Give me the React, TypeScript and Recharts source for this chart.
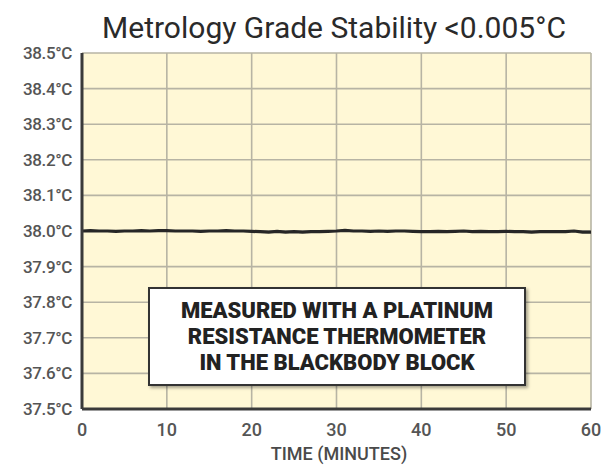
import React from "react";
import { CartesianGrid, Line, LineChart, XAxis, YAxis } from "recharts";

// minutes 0..60, one reading per minute
const minutes = [
  0, 1, 2, 3, 4, 5, 6, 7, 8, 9, 10, 11, 12, 13, 14, 15, 16, 17, 18, 19, 20,
  21, 22, 23, 24, 25, 26, 27, 28, 29, 30, 31, 32, 33, 34, 35, 36, 37, 38, 39, 40,
  41, 42, 43, 44, 45, 46, 47, 48, 49, 50, 51, 52, 53, 54, 55, 56, 57, 58, 59, 60,
];
const temps = [
  38.0, 38.001, 38.0, 38.0, 37.999, 38.0, 38.0, 38.001, 38.0, 38.001, 38.001,
  38.0, 38.0, 38.0, 37.999, 38.0, 38.0, 38.001, 38.0, 38.0, 37.999,
  37.998, 37.997, 37.999, 37.997, 37.998, 37.997, 37.998, 37.998, 37.999, 38.0,
  38.002, 38.0, 38.0, 37.999, 38.0, 37.999, 38.0, 38.0, 37.999, 37.998,
  37.998, 37.999, 37.998, 37.999, 38.0, 37.998, 37.999, 37.998, 37.998, 37.999,
  37.998, 37.998, 37.997, 37.998, 37.998, 37.998, 37.998, 38.0, 37.997, 37.997,
];
const yTicks = [37.5, 37.6, 37.7, 37.8, 37.9, 38.0, 38.1, 38.2, 38.3, 38.4, 38.5];
const xTicks = [0, 10, 20, 30, 40, 50, 60];
const title = "Metrology Grade Stability <0.005°C";
const xLabel = "TIME (MINUTES)";
const noteLines = ["MEASURED WITH A PLATINUM", "RESISTANCE THERMOMETER", "IN THE BLACKBODY BLOCK"];

const data = minutes.map((m, i) => ({ t: m, v: temps[i] }));

export default function App() {
  return (
    <div style={{ position: "absolute", left: 0, top: 0, width: 606, height: 468, background: "#fff", fontFamily: "Roboto, sans-serif" }}>
      <div
        style={{
          position: "absolute",
          left: 34,
          width: 600,
          top: 13,
          textAlign: "center",
          fontSize: 30,
          lineHeight: "30px",
          color: "#2a2a2a",
        }}
      >
        {title}
      </div>
      <LineChart width={606} height={468} data={data} margin={{ top: 53, right: 15, bottom: 21, left: 10 }}>
        <CartesianGrid fill="#fff8d6" stroke="#b7b4a4" strokeWidth={1.6} />
        <XAxis
          dataKey="t"
          type="number"
          domain={[0, 60]}
          ticks={xTicks}
          tickLine={false}
          axisLine={{ stroke: "#3a3a3a", strokeWidth: 3 }}
          tick={{ fill: "#555", fontSize: 18, fontWeight: 500 }}
          tickMargin={8}
          height={38}
        />
        <YAxis
          type="number"
          domain={[37.5, 38.5]}
          ticks={yTicks}
          tickFormatter={(v: number) => `${v.toFixed(1)}°C`}
          tickLine={false}
          axisLine={{ stroke: "#3a3a3a", strokeWidth: 3 }}
          tick={{ fill: "#555", fontSize: 17, fontWeight: 500, letterSpacing: -0.4 }}
          tickMargin={4}
          width={72}
          interval={0}
        />
        <Line dataKey="v" stroke="#262626" strokeWidth={3.2} dot={false} isAnimationActive={false} type="linear" />
      </LineChart>
      <div
        style={{
          position: "absolute",
          left: 89,
          width: 500,
          top: 444,
          textAlign: "center",
          fontSize: 18,
          lineHeight: "20px",
          color: "#4a4a4a",
          fontWeight: 500,
        }}
      >
        {xLabel}
      </div>
      <div
        style={{
          position: "absolute",
          left: 148,
          top: 287,
          width: 374,
          height: 95,
          border: "2px solid #333",
          background: "#fff",
          boxShadow: "2px 2px 3px rgba(0,0,0,0.35)",
          display: "flex",
          flexDirection: "column",
          justifyContent: "center",
          alignItems: "center",
          fontWeight: 900,
          fontSize: 22,
          lineHeight: "26px",
          color: "#222",
        }}
      >
        {noteLines.map((l) => (
          <div key={l}>{l}</div>
        ))}
      </div>
    </div>
  );
}
